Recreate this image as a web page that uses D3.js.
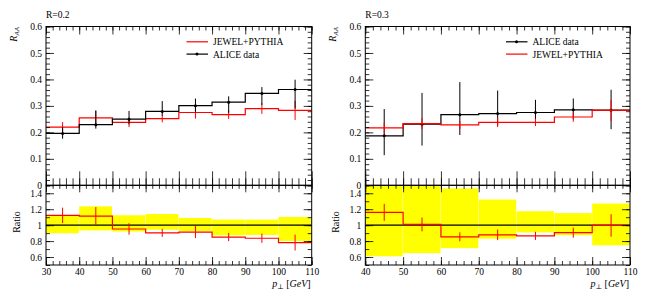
<!DOCTYPE html>
<html>
<head>
<meta charset="utf-8">
<script src="https://cdn.jsdelivr.net/npm/d3@7"></script>
<style>
  body { margin: 0; background: white; }
  text { font-family: "Liberation Serif", "DejaVu Serif", serif; }
</style>
</head>
<body>
<div id="my_dataviz"></div>
<script>
// R = 0.2 : bin edges in GeV, ALICE value with lower/upper bounds, JEWEL value with stat error
var edgesR02   = [30, 40, 50, 60, 70, 80, 90, 100, 110];
var aliceR02   = [0.196, 0.229, 0.250, 0.279, 0.301, 0.314, 0.347, 0.362];
var aliceLoR02 = [0.176, 0.214, 0.230, 0.263, 0.278, 0.274, 0.304, 0.290];
var aliceHiR02 = [0.219, 0.283, 0.281, 0.318, 0.328, 0.336, 0.371, 0.399];
var jewelR02   = [0.220, 0.255, 0.238, 0.252, 0.275, 0.267, 0.290, 0.283];
var jewelErrR02 = [0.019, 0.026, 0.018, 0.014, 0.023, 0.016, 0.020, 0.036];

// R = 0.3
var edgesR03   = [40, 50, 60, 70, 80, 90, 100, 110];
var aliceR03   = [0.187, 0.231, 0.267, 0.271, 0.275, 0.285, 0.284];
var aliceLoR03 = [0.114, 0.150, 0.190, 0.225, 0.250, 0.249, 0.212];
var aliceHiR03 = [0.288, 0.349, 0.390, 0.358, 0.323, 0.328, 0.361];
var jewelR03   = [0.217, 0.233, 0.228, 0.238, 0.238, 0.258, 0.283];
var jewelErrR03 = [0.020, 0.020, 0.015, 0.018, 0.014, 0.018, 0.040];

// tick labels
var xTicksR02 = [30, 40, 50, 60, 70, 80, 90, 100, 110];
var xTicksR03 = [40, 50, 60, 70, 80, 90, 100, 110];
var yTicksTop = [0, 0.1, 0.2, 0.3, 0.4, 0.5, 0.6];
var yTicksRatio = [0.6, 0.8, 1, 1.2, 1.4];

var RED = "#ff0000", YELLOW = "#ffff00";

var svg = d3.select("#my_dataviz").append("svg")
    .attr("width", 656)
    .attr("height", 300)
    .style("background-color", "white");

function tickAxis(g, axis, values, size, labels) {
    g.call(axis.tickValues(values).tickSize(size).tickPadding(4)
        .tickFormat(labels ? function(d) { return d; } : ""));
    g.select(".domain").remove();
    g.selectAll("line").attr("stroke", "black").attr("stroke-width", 0.8);
    g.selectAll("text").style("font-size", "9.5px").attr("fill", "black")
        .style("font-family", "'Liberation Serif', serif");
}

function draw_panel(p) {
    var top = 26.5, mid = 185.3, bot = 265;
    var x = d3.scaleLinear()
        .domain([p.edges[0], p.edges[p.edges.length - 1]])
        .range([p.left, p.right]);
    var y = d3.scaleLinear().domain([0, 0.6]).range([mid, top]);
    var yr = d3.scaleLinear().domain([0.5, 1.5]).range([bot, mid]);

    var bins = p.alice.map(function(v, i) {
        return {
            lo: p.edges[i], hi: p.edges[i + 1], mid: (p.edges[i] + p.edges[i + 1]) / 2,
            a: v, aLo: p.aliceLo[i], aHi: p.aliceHi[i],
            j: p.jewel[i], jErr: p.jewelErr[i]
        };
    });

    // clip regions
    svg.append("clipPath").attr("id", p.id + "top").append("rect")
        .attr("x", p.left).attr("y", top).attr("width", p.right - p.left).attr("height", mid - top);
    svg.append("clipPath").attr("id", p.id + "rat").append("rect")
        .attr("x", p.left).attr("y", mid).attr("width", p.right - p.left).attr("height", bot - mid);

    var gTop = svg.append("g").attr("clip-path", "url(#" + p.id + "top)");
    var gRat = svg.append("g").attr("clip-path", "url(#" + p.id + "rat)");

    function stepLine(yScale, vals) {
        var pts = vals.map(function(v, i) { return [p.edges[i], v]; });
        pts.push([p.edges[p.edges.length - 1], vals[vals.length - 1]]);
        return d3.line()
            .x(function(d) { return x(d[0]); })
            .y(function(d) { return yScale(d[1]); })
            .curve(d3.curveStepAfter)(pts);
    }

    function drawAlice() {
        gTop.append("path").attr("d", stepLine(y, p.alice))
            .attr("fill", "none").attr("stroke", "black").attr("stroke-width", 1.2);
        gTop.selectAll(null).data(bins).enter().append("line")
            .attr("x1", function(d) { return x(d.mid); })
            .attr("x2", function(d) { return x(d.mid); })
            .attr("y1", function(d) { return y(d.aLo); })
            .attr("y2", function(d) { return y(d.aHi); })
            .attr("stroke", "black").attr("stroke-width", 1);
        gTop.selectAll(null).data(bins).enter().append("circle")
            .attr("cx", function(d) { return x(d.mid); })
            .attr("cy", function(d) { return y(d.a); })
            .attr("r", 1.5).attr("fill", "black");
    }
    function drawJewel() {
        gTop.append("path").attr("d", stepLine(y, p.jewel))
            .attr("fill", "none").attr("stroke", RED).attr("stroke-width", 1.2);
        gTop.selectAll(null).data(bins).enter().append("line")
            .attr("x1", function(d) { return x(d.mid); })
            .attr("x2", function(d) { return x(d.mid); })
            .attr("y1", function(d) { return y(d.j - d.jErr); })
            .attr("y2", function(d) { return y(d.j + d.jErr); })
            .attr("stroke", RED).attr("stroke-width", 1);
    }
    if (p.aliceFirst) { drawAlice(); drawJewel(); } else { drawJewel(); drawAlice(); }

    // ratio panel: data uncertainty band, unity line, MC / data
    gRat.selectAll(null).data(bins).enter().append("rect")
        .attr("x", function(d) { return x(d.lo); })
        .attr("width", function(d) { return x(d.hi) - x(d.lo) - 0.4; })
        .attr("y", function(d) { return yr(d.aHi / d.a); })
        .attr("height", function(d) { return yr(d.aLo / d.a) - yr(d.aHi / d.a); })
        .attr("fill", YELLOW);
    gRat.append("line")
        .attr("x1", p.left).attr("x2", p.right)
        .attr("y1", yr(1)).attr("y2", yr(1))
        .attr("stroke", "black").attr("stroke-width", 1.2);
    var ratio = p.jewel.map(function(v, i) { return v / p.alice[i]; });
    gRat.append("path").attr("d", stepLine(yr, ratio))
        .attr("fill", "none").attr("stroke", RED).attr("stroke-width", 1.2);
    gRat.selectAll(null).data(bins).enter().append("line")
        .attr("x1", function(d) { return x(d.mid); })
        .attr("x2", function(d) { return x(d.mid); })
        .attr("y1", function(d) { return yr((d.j - d.jErr) / d.a); })
        .attr("y2", function(d) { return yr((d.j + d.jErr) / d.a); })
        .attr("stroke", RED).attr("stroke-width", 1);

    // frames
    [[top, mid], [mid, bot]].forEach(function(r) {
        svg.append("rect").attr("x", p.left).attr("y", r[0])
            .attr("width", p.right - p.left).attr("height", r[1] - r[0])
            .attr("fill", "none").attr("stroke", "black").attr("stroke-width", 1);
    });

    // ticks, all pointing inward
    var xMinor = d3.range(p.edges[0], p.edges[p.edges.length - 1] + 0.1, 2);
    var yMinor = d3.range(0, 0.601, 0.02);
    var rMinor = d3.range(0.5, 1.501, 0.1);

    tickAxis(svg.append("g").attr("transform", "translate(0," + mid + ")"), d3.axisBottom(x), xMinor, -7, false);
    tickAxis(svg.append("g").attr("transform", "translate(0," + mid + ")"), d3.axisBottom(x), p.xTicks, -14, false);
    tickAxis(svg.append("g").attr("transform", "translate(0," + top + ")"), d3.axisTop(x), xMinor, -4, false);
    tickAxis(svg.append("g").attr("transform", "translate(0," + top + ")"), d3.axisTop(x), p.xTicks, -8, false);
    tickAxis(svg.append("g").attr("transform", "translate(" + p.left + ",0)"), d3.axisLeft(y), yMinor, -4, false);
    tickAxis(svg.append("g").attr("transform", "translate(" + p.left + ",0)"), d3.axisLeft(y), yTicksTop, -8, true);
    tickAxis(svg.append("g").attr("transform", "translate(" + p.right + ",0)"), d3.axisRight(y), yMinor, -4, false);
    tickAxis(svg.append("g").attr("transform", "translate(" + p.right + ",0)"), d3.axisRight(y), yTicksTop, -8, false);

    tickAxis(svg.append("g").attr("transform", "translate(0," + bot + ")"), d3.axisBottom(x), xMinor, -4, false);
    var xa = svg.append("g").attr("transform", "translate(0," + bot + ")");
    tickAxis(xa, d3.axisBottom(x), p.xTicks, -8, true);
    xa.selectAll("text").attr("y", 3.5);
    tickAxis(svg.append("g").attr("transform", "translate(0," + mid + ")"), d3.axisTop(x), xMinor, -3.5, false);
    tickAxis(svg.append("g").attr("transform", "translate(0," + mid + ")"), d3.axisTop(x), p.xTicks, -7, false);
    tickAxis(svg.append("g").attr("transform", "translate(" + p.left + ",0)"), d3.axisLeft(yr), rMinor, -4, false);
    tickAxis(svg.append("g").attr("transform", "translate(" + p.left + ",0)"), d3.axisLeft(yr), yTicksRatio, -8, true);
    tickAxis(svg.append("g").attr("transform", "translate(" + p.right + ",0)"), d3.axisRight(yr), rMinor, -4, false);
    tickAxis(svg.append("g").attr("transform", "translate(" + p.right + ",0)"), d3.axisRight(yr), yTicksRatio, -8, false);

    // labels
    svg.append("text").attr("x", p.left).attr("y", 18)
        .style("font-size", "9.5px").text(p.title);

    var ry = svg.append("text")
        .attr("transform", "translate(" + (p.left - 29) + "," + 27 + ") rotate(-90)")
        .attr("text-anchor", "end").style("font-size", "10px");
    ry.append("tspan").style("font-style", "italic").text("R");
    ry.append("tspan").style("font-style", "italic").style("font-size", "7px").attr("dy", 2).text("AA");

    svg.append("text")
        .attr("transform", "translate(" + (p.left - 26.5) + "," + 222 + ") rotate(-90)")
        .attr("text-anchor", "middle").style("font-size", "10px").text("Ratio");

    var xl = svg.append("text").attr("x", p.right - 1).attr("y", 286.5)
        .attr("text-anchor", "end").style("font-size", "10px");
    xl.append("tspan").style("font-style", "italic").text("p");
    xl.append("tspan").style("font-size", "7px").attr("dy", 2).text("\u22a5");
    xl.append("tspan").attr("dy", -2).text(" [");
    xl.append("tspan").style("font-style", "italic").text("GeV");
    xl.append("tspan").text("]");

    // legend
    var lx = p.left + p.legendX;
    p.legend.forEach(function(name, i) {
        var ly = 41.8 + i * 12.3;
        var col = name === "ALICE data" ? "black" : RED;
        svg.append("line").attr("x1", lx).attr("x2", lx + 21.5)
            .attr("y1", ly).attr("y2", ly)
            .attr("stroke", col).attr("stroke-width", 1.2);
        if (name === "ALICE data") {
            svg.append("circle").attr("cx", lx + 10.5).attr("cy", ly).attr("r", 1.5).attr("fill", "black");
        }
        svg.append("text").attr("x", lx + 26.5).attr("y", ly + 3.4)
            .style("font-size", "9.5px").text(name);
    });
}

draw_panel({
    id: "r02", left: 46, right: 311.7, title: "R=0.2",
    edges: edgesR02, alice: aliceR02, aliceLo: aliceLoR02, aliceHi: aliceHiR02,
    jewel: jewelR02, jewelErr: jewelErrR02, xTicks: xTicksR02,
    aliceFirst: false, legendX: 140.5, legend: ["JEWEL+PYTHIA", "ALICE data"]
});
draw_panel({
    id: "r03", left: 365.3, right: 630, title: "R=0.3",
    edges: edgesR03, alice: aliceR03, aliceLo: aliceLoR03, aliceHi: aliceHiR03,
    jewel: jewelR03, jewelErr: jewelErrR03, xTicks: xTicksR03,
    aliceFirst: true, legendX: 140.7, legend: ["ALICE data", "JEWEL+PYTHIA"]
});
</script>
</body>
</html>
